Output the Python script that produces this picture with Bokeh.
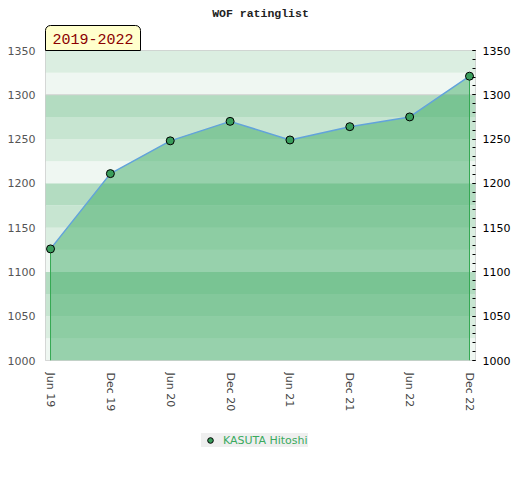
from bokeh.plotting import figure
from bokeh.layouts import column
from bokeh.models import (Range1d, LinearAxis, FixedTicker, SingleIntervalTicker,
                          BoxAnnotation, Span, Title, Legend, LegendItem, ColumnDataSource)
from bokeh.embed import file_html
from bokeh.resources import INLINE

# ---- data ----
periods = ["Jun 19", "Dec 19", "Jun 20", "Dec 20", "Jun 21", "Dec 21", "Jun 22", "Dec 22"]
ratings = [1126, 1211, 1248, 1270, 1249, 1264, 1275, 1321]
player = "KASUTA Hitoshi"
title_text = "WOF ratinglist"
period_text = "2019-2022"
y_ticks = [1000, 1050, 1100, 1150, 1200, 1250, 1300, 1350]

y_min, y_max = y_ticks[0], y_ticks[-1]
xs = list(range(len(periods)))
src = ColumnDataSource(dict(x=xs, rating=ratings))

marker_style = dict(size=8, fill_color="#3a9e5c", line_color="black", line_width=1)

p = figure(frame_width=430, frame_height=310, output_backend="svg", toolbar_location=None,
           x_range=Range1d(-0.084, len(periods) - 1 + 0.1),
           y_range=Range1d(y_min, y_max),
           min_border_left=45, min_border_right=45, min_border_top=50, min_border_bottom=60,
           background_fill_color="white", border_fill_color="white")
p.outline_line_color = "#cccccc"
p.grid.visible = False

# background bands every 25 points
band_colors = ["#eff7f2", "#dbeee1", "#c7e5d1", "#b3dcc1"]
for lo in range(y_min, y_max, 25):
    p.add_layout(BoxAnnotation(bottom=lo, top=lo + 25, fill_color=band_colors[(lo % 100) // 25],
                               fill_alpha=1, line_color=None, level="underlay"))
p.add_layout(Span(location=1300, dimension="width", line_color="#cfcfcf", line_width=1, level="underlay"))

# area
p.varea(x="x", y1=y_min, y2="rating", source=src, fill_color="#3fac65", fill_alpha=0.5)
p.segment(x0=[xs[0], xs[-1]], y0=[y_min, y_min], x1=[xs[0], xs[-1]], y1=[ratings[0], ratings[-1]],
          line_color="#35a853", line_width=1)
p.line("x", "rating", source=src, line_color="#62a3db", line_width=1.5)
p.scatter("x", "rating", source=src, **marker_style)

# axes
p.xaxis.ticker = FixedTicker(ticks=xs)
p.xaxis.major_label_overrides = {i: s for i, s in zip(xs, periods)}
p.xaxis.major_label_orientation = "vertical"
p.xaxis.major_label_standoff = 12
p.xaxis.major_tick_out = 0
p.xaxis.major_tick_in = 0
p.xaxis.minor_tick_out = 0
p.xaxis.axis_line_color = None
p.xaxis.major_label_text_font = "DejaVu Sans"
p.xaxis.major_label_text_font_size = "11px"
p.xaxis.major_label_text_color = "#444444"

p.yaxis.ticker = SingleIntervalTicker(interval=50, num_minor_ticks=5)
p.yaxis.major_tick_out = 0
p.yaxis.major_tick_in = 0
p.yaxis.minor_tick_out = 0
p.yaxis.minor_tick_in = 0
p.yaxis.axis_line_color = None
p.yaxis.major_label_standoff = 10
p.yaxis.major_label_text_font = "DejaVu Sans"
p.yaxis.major_label_text_font_size = "11px"
p.yaxis.major_label_text_color = "#555555"

ra = LinearAxis(ticker=SingleIntervalTicker(interval=50, num_minor_ticks=5))
ra.major_tick_out = 0
ra.major_tick_in = 3
ra.minor_tick_out = 0
ra.minor_tick_in = 3
ra.major_tick_line_color = "black"
ra.minor_tick_line_color = "black"
ra.axis_line_color = None
ra.major_label_standoff = 7
ra.major_label_text_font = "DejaVu Sans"
ra.major_label_text_font_size = "11px"
ra.major_label_text_color = "black"
p.add_layout(ra, "right")

# period label (inner) and title (outer)
p.add_layout(Title(text=period_text, align="left", standoff=0, text_font="Liberation Mono",
                   text_font_style="normal", text_font_size="15px", text_color="#8b0000",
                   background_fill_color="#ffffcc", background_fill_alpha=1,
                   border_line_color="black", border_line_width=1,
                   padding=dict(left=7, right=7, top=8, bottom=7),
                   border_radius=dict(top_left=5, top_right=5, bottom_right=0, bottom_left=0)),
             "above")
p.add_layout(Title(text=title_text, align="center", standoff=8, text_font="Liberation Mono",
                   text_font_style="bold", text_font_size="11.5px", text_color="#222222"),
             "above")

# legend strip below the chart (its frame is aligned with the chart's frame)
lg = figure(width=520, height=60, output_backend="svg", toolbar_location=None,
            x_range=Range1d(-1000, -999), y_range=Range1d(-1000, -999),
            min_border=0, x_axis_location=None, y_axis_location=None,
            background_fill_color="white", border_fill_color="white")
lg.outline_line_color = None
lg.grid.visible = False
proxy = lg.scatter("x", "rating", source=src, size=7, fill_color="#3a9e5c",
                   line_color="black", line_width=1)
legend = Legend(items=[LegendItem(label=player, renderers=[proxy])], location=(156, 33),
                background_fill_color="#efefef", background_fill_alpha=1,
                border_line_color=None, padding=3, margin=0, spacing=0,
                glyph_width=18, glyph_height=14, label_height=14, label_standoff=4,
                label_text_font="DejaVu Sans", label_text_font_size="11px",
                label_text_color="#3aaa5e")
lg.add_layout(legend)

open("out.html", "w").write(file_html(column(p, lg), INLINE))
